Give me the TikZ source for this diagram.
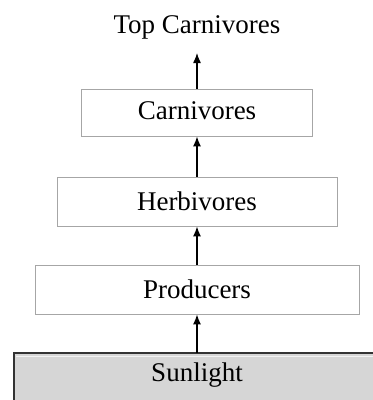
\documentclass[tikz,border=0pt]{standalone}
\usepackage{fontspec}
\setmainfont{Liberation Serif}
\usetikzlibrary{arrows.meta}
\begin{document}
\begin{tikzpicture}[x=1pt,y=-1pt,
  lvl/.style={draw=gray!70, line width=0.8pt, fill=white, inner sep=0pt},
  lbl/.style={font=\fontsize{27}{30}\selectfont, anchor=base, inner sep=0pt},
  arr/.style={-{Latex[length=10pt,width=8pt]}, line width=1.3pt}]
\useasboundingbox (0,0) rectangle (373,400);
\node[lbl] (top) at (197,33) {Top Carnivores};
\node[lvl, minimum width=231pt, minimum height=47pt] (carn) at (197,112.5) {};
\node[lbl] at (197,119) {Carnivores};
\node[lvl, minimum width=280pt, minimum height=49pt] (herb) at (197,201.5) {};
\node[lbl] at (197,210) {Herbivores};
\node[lvl, minimum width=324pt, minimum height=49pt] (prod) at (197,289.5) {};
\node[lbl] at (197,298) {Producers};
\fill[gray!32] (14,353) rectangle (380,410);
\draw[line width=1.2pt, black!80] (14,410) -- (14,353) -- (380,353);
\draw[white!90!gray, line width=1.5pt] (16,356.5) -- (380,356.5);
\coordinate (sunc) at (197,353);
\coordinate (toptip) at (197,53);
\node[lbl] (sun) at (197,381) {Sunlight};
\draw[arr] (carn.north) -- (toptip);
\draw[arr] (herb.north) -- (carn.south);
\draw[arr] (prod.north) -- (herb.south);
\draw[arr] (sunc) -- (prod.south);
\end{tikzpicture}
\end{document}
